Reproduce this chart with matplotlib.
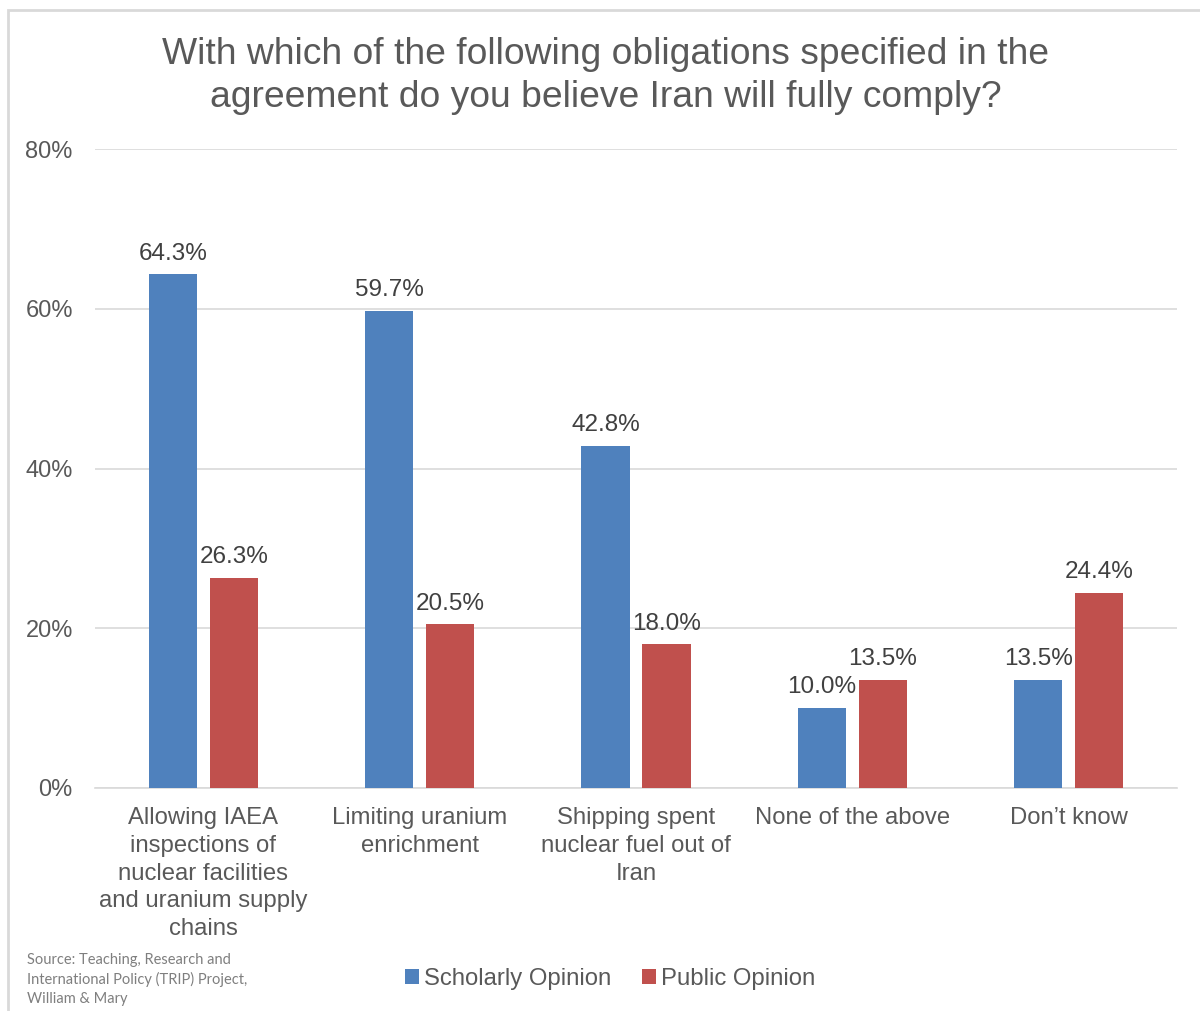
import numpy as np
import matplotlib
matplotlib.use("Agg")
import matplotlib.pyplot as plt
from matplotlib.patches import Rectangle

categories = [
    "Allowing IAEA\ninspections of\nnuclear facilities\nand uranium supply\nchains",
    "Limiting uranium\nenrichment",
    "Shipping spent\nnuclear fuel out of\nIran",
    "None of the above",
    "Don\u2019t know",
]
scholarly = [64.3, 59.7, 42.8, 10.0, 13.5]
public = [26.3, 20.5, 18.0, 13.5, 24.4]
series_names = ["Scholarly Opinion", "Public Opinion"]
yticks = [0, 20, 40, 60, 80]

title = ("With which of the following obligations specified in the\n"
         "agreement do you believe Iran will fully comply?")
source = ("Source: Teaching, Research and\n"
          "International Policy (TRIP) Project,\n"
          "William & Mary")

text_c = "#595959"
blue = "#4f81bd"
red = "#c0504d"
grid_c = "#d9d9d9"

plt.rcParams['font.family'] = ['Liberation Sans', 'DejaVu Sans']

fig = plt.figure(figsize=(12, 10.11), dpi=100)
fig.patches.append(Rectangle((8 / 1200, -0.1), 1.2, 1 - 10 / 1011 + 0.1,
                             transform=fig.transFigure, fill=False,
                             edgecolor=grid_c, linewidth=2))

ax = fig.add_axes([95 / 1200, 1 - 788 / 1011, 1082 / 1200, 639 / 1011])

x = np.arange(len(categories))
w = 0.222
off = 0.141
b1 = ax.bar(x - off, scholarly, w, color=blue, label=series_names[0], zorder=3)
b2 = ax.bar(x + off, public, w, color=red, label=series_names[1], zorder=3)

for bars, vals in ((b1, scholarly), (b2, public)):
    for bar, v in zip(bars, vals):
        ax.annotate("%.1f%%" % v, (bar.get_x() + bar.get_width() / 2, v),
                    xytext=(0, 7), textcoords="offset points",
                    ha="center", va="bottom", fontsize=17.5, color="#404040")

ax.set_xlim(-0.5, len(categories) - 0.5)
ax.set_ylim(0, 80)
ax.set_yticks(yticks)
ax.set_yticklabels(["%d%%" % t for t in yticks])
ax.set_xticks(x)
ax.set_xticklabels(categories, fontsize=17.2, color=text_c, linespacing=1.33)
ax.tick_params(axis="y", labelsize=17, labelcolor=text_c, length=0, pad=16)
ax.tick_params(axis="x", length=0, pad=14)
ax.yaxis.grid(True, color=grid_c, linewidth=1.2, zorder=0)
for s in ["top", "right", "left"]:
    ax.spines[s].set_visible(False)
ax.spines["bottom"].set_color(grid_c)
ax.spines["bottom"].set_linewidth(1.2)

fig.text(0.505, 1 - 76 / 1011, title, ha="center", va="center",
         fontsize=26.8, color=text_c, linespacing=1.32)

fig.text(27 / 1200, 1 - 1006 / 1011, source, ha="left", va="bottom",
         fontsize=10.5, color="#7f7f7f", family=["Lato", "DejaVu Sans"],
         linespacing=1.42)

fig.legend(handles=[b1, b2], loc="center", bbox_to_anchor=(610 / 1200, 1 - 979 / 1011),
           ncol=2, frameon=False, fontsize=17.2, labelcolor=text_c,
           handlelength=0.6, handleheight=0.6, handletextpad=0.2,
           columnspacing=1.3)

fig.savefig("out.png", dpi=100, facecolor="white")
